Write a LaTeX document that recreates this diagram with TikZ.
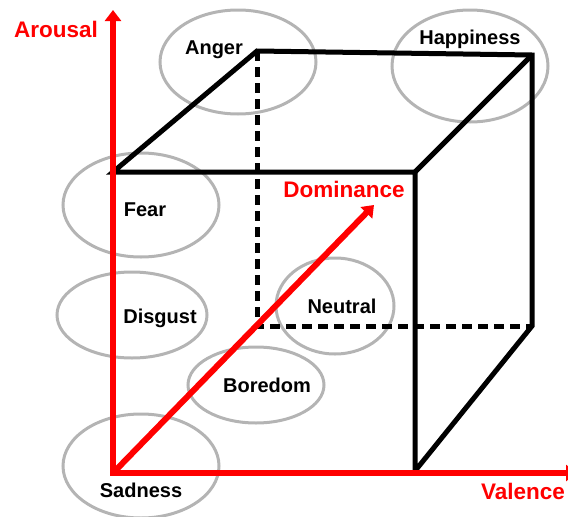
\documentclass[tikz,border=0pt]{standalone}
\usepackage{fontspec}
\setmainfont{Liberation Sans}
\usepackage{tikz}
\usetikzlibrary{arrows.meta,shapes.geometric}
\definecolor{axisred}{HTML}{FF0000}
\definecolor{ringgray}{HTML}{B4B4B4}
\tikzset{
  ring/.style={
    ellipse,
    draw=ringgray,
    line width=3pt,
    inner sep=0pt
  },
  emolabel/.style={font=\fontsize{20}{22}\selectfont\bfseries, text=black, inner sep=0pt},
  axislabel/.style={font=\fontsize{22.5}{24}\selectfont\bfseries, text=axisred, inner sep=0pt},
  axisarrow/.style={draw=axisred, line width=6pt, -{Triangle[length=11pt,width=16pt]}},
  cubeedge/.style={draw=black, line width=5pt, line join=miter},
  hiddenedge/.style={cubeedge, dash pattern=on 10pt off 6pt}
}

\begin{document}
\begin{tikzpicture}[x=1pt,y=-1pt]
  \useasboundingbox (0,0) rectangle (568,517);

  % Emotion regions
  \node[ring, minimum width=156pt, minimum height=104pt] (angerring) at (238,62) {};
  \node[ring, minimum width=156pt, minimum height=112pt] (happyring) at (470,66) {};
  \node[ring, minimum width=156pt, minimum height=104pt] (fearring) at (141,205) {};
  \node[ring, minimum width=150pt, minimum height=86pt] (disgustring) at (132,315) {};
  \node[ring, minimum width=118pt, minimum height=96pt] (neutralring) at (335,306) {};
  \node[ring, minimum width=136pt, minimum height=76pt] (boredring) at (256,385) {};
  \node[ring, minimum width=156pt, minimum height=104pt] (sadring) at (141,466) {};

  % Cube corners
  \coordinate (ftl) at (113,172);
  \coordinate (ftr) at (415,172);
  \coordinate (fbr) at (415,471);
  \coordinate (btl) at (257,51);
  \coordinate (btr) at (532,55);
  \coordinate (bbr) at (532,326);
  \coordinate (bbl) at (257,326);

  % Cube
  \draw[hiddenedge] (btl) -- (bbl) -- (bbr);
  \draw[cubeedge] (fbr) -- (ftr) -- (ftl) -- (btl) -- (btr) -- (bbr) -- (fbr);
  \draw[cubeedge] (ftr) -- (btr);

  % Axes
  \coordinate (origin) at (113,473);
  \coordinate (arousaltip) at (113,10);
  \coordinate (valencetip) at (577,473);
  \coordinate (dominancetip) at (374,205);
  \draw[axisarrow] (origin) -- (dominancetip);
  \draw[axisarrow] ([yshift=3pt]origin) -- (arousaltip);
  \draw[axisarrow] ([xshift=-3pt]origin) -- (valencetip);

  % Axis labels
  \node[axislabel] (arousal) at (56,29) {Arousal};
  \node[axislabel] (valence) at (523,491) {Valence};
  \node[axislabel] (dominance) at (344,189) {Dominance};

  % Emotion labels
  \node[emolabel] (anger) at (214,50) {Anger};
  \node[emolabel] (happiness) at (470,39) {Happiness};
  \node[emolabel] (fear) at (145,210) {Fear};
  \node[emolabel] (disgust) at (160,318) {Disgust};
  \node[emolabel] (neutral) at (342,306) {Neutral};
  \node[emolabel] (boredom) at (267,385) {Boredom};
  \node[emolabel] (sadness) at (141,490) {Sadness};
\end{tikzpicture}
\end{document}
